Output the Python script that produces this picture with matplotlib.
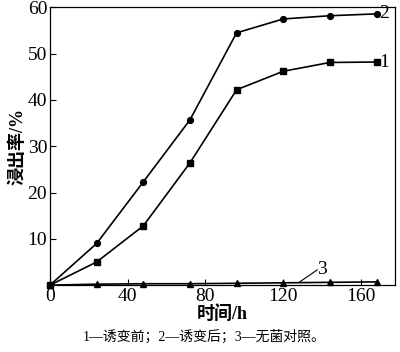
import matplotlib
matplotlib.use("Agg")
import matplotlib.pyplot as plt

plt.rcParams['font.family'] = ['Liberation Serif', 'Noto Sans CJK SC']

# data
hours = [0, 24, 48, 72, 96, 120, 144, 168]
before = [0, 5.0, 12.8, 26.4, 42.2, 46.2, 48.1, 48.2]     # 1 诱变前
after = [0, 9.0, 22.3, 35.7, 54.5, 57.5, 58.2, 58.6]      # 2 诱变后
control = [0, 0.2, 0.3, 0.3, 0.4, 0.5, 0.6, 0.7]          # 3 无菌对照
xticks = [0, 40, 80, 120, 160]
yticks = [10, 20, 30, 40, 50, 60]

fig = plt.figure(figsize=(4, 3.52), dpi=100)
ax = fig.add_axes([0.125, 0.19, 0.8625, 0.789])

ax.plot(hours, before, color='black', lw=1.2, marker='s', ms=4.5, clip_on=False, zorder=3)
ax.plot(hours, after, color='black', lw=1.2, marker='o', ms=4.2, clip_on=False, zorder=3)
ax.plot(hours, control, color='black', lw=1.2, marker='^', ms=4.2, clip_on=False, zorder=3)

# curve labels
ax.text(169.5, after[-1], '2', fontsize=14, va='center', ha='left')
ax.text(169.5, before[-1], '1', fontsize=14, va='center', ha='left')
ax.plot([128.5, 137.5], [0.7, 3.3], color='black', lw=0.8)
ax.text(137.5, 3.4, '3', fontsize=14, va='center', ha='left')

ax.set_xlim(0, 177.5)
ax.set_ylim(0, 60)
ax.set_xticks(xticks)
ax.set_yticks(yticks)
ax.tick_params(direction='in', length=4, width=0.8, labelsize=14, pad=2)
for s in ax.spines.values():
    s.set_linewidth(0.9)

ax.set_xlabel('时间/h', fontsize=13, fontweight='bold', labelpad=0)
ax.set_ylabel('浸出率/%', fontsize=13, fontweight='bold', labelpad=1)

fig.text(0.51, 0.042, '1—诱变前；2—诱变后；3—无菌对照。', fontsize=10, ha='center', va='center')

fig.savefig('out.png', dpi=100)
